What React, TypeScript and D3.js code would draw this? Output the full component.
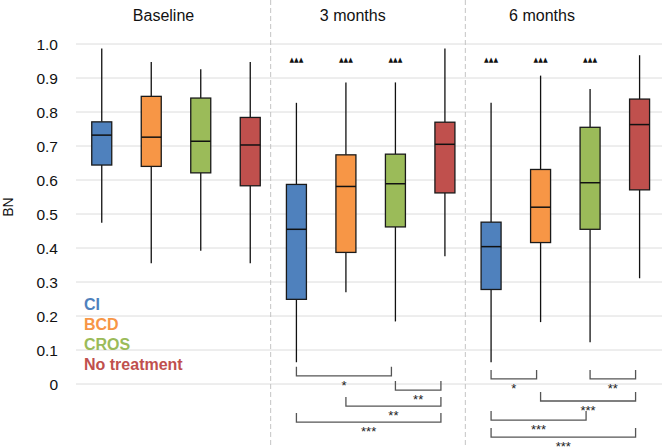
import React from "react";
import * as d3 from "d3";

const groups = ["Baseline", "3 months", "6 months"];
const treatments = ["CI", "BCD", "CROS", "No treatment"];
const colors = ["#4F81BD", "#F79646", "#9BBB59", "#C0504D"];

// [min, q1, median, q3, max] per treatment
const baselineStats = [
  [0.474, 0.644, 0.732, 0.771, 0.987],
  [0.355, 0.64, 0.726, 0.846, 0.947],
  [0.392, 0.621, 0.714, 0.841, 0.926],
  [0.355, 0.583, 0.703, 0.784, 0.947],
];
const threeMonthStats = [
  [0.064, 0.249, 0.455, 0.587, 0.827],
  [0.27, 0.387, 0.581, 0.674, 0.887],
  [0.184, 0.462, 0.589, 0.676, 0.887],
  [0.376, 0.562, 0.705, 0.77, 0.987],
];
const sixMonthStats = [
  [0.064, 0.278, 0.404, 0.476, 0.827],
  [0.182, 0.416, 0.52, 0.631, 0.907],
  [0.123, 0.455, 0.592, 0.755, 0.868],
  [0.311, 0.571, 0.763, 0.838, 0.967],
];
const groupStats = [baselineStats, threeMonthStats, sixMonthStats];

const yTicks = [0, 0.1, 0.2, 0.3, 0.4, 0.5, 0.6, 0.7, 0.8, 0.9, 1.0];
const yTickLabels = ["0", "0.1", "0.2", "0.3", "0.4", "0.5", "0.6", "0.7", "0.8", "0.9", "1.0"];

// significance vs baseline (triangles)
const triangleMarks = [
  { group: 1, treatments: [0, 1, 2] },
  { group: 2, treatments: [0, 1, 2] },
];
const triangleLevel = 0.953;

// pairwise brackets: level is the BN value of the bracket line
const threeMonthBrackets = [
  { from: 0, to: 2, level: 0.024, label: "*" },
  { from: 2, to: 3, level: -0.018, label: "**" },
  { from: 1, to: 3, level: -0.065, label: "**" },
  { from: 0, to: 3, level: -0.112, label: "***" },
];
const sixMonthBrackets = [
  { from: 0, to: 1, level: 0.015, label: "*" },
  { from: 2, to: 3, level: 0.015, label: "**" },
  { from: 1, to: 3, level: -0.05, label: "***" },
  { from: 0, to: 2, level: -0.106, label: "***" },
  { from: 0, to: 3, level: -0.156, label: "***" },
];
const groupBrackets = [[], threeMonthBrackets, sixMonthBrackets];

const W = 665;
const H = 447;
const FONT = "'Liberation Sans', Arial, sans-serif";

export default function App() {
  const y = d3.scaleLinear().domain([0, 1]).range([384, 44]);
  const x0 = d3.scaleBand<string>().domain(groups).range([76, 660]);
  const x1 = d3.scaleBand<string>().domain(treatments).range([1, 199]);
  const cx = (g: number, t: number) =>
    (x0(groups[g]) as number) + (x1(treatments[t]) as number) + x1.bandwidth() / 2;
  const titleX = d3.scalePoint<string>().domain(groups).range([163.5, 542]);
  const boxW = 20;
  const bracketInset = 4;
  const tickH = 9;

  return (
    <svg
      width={W}
      height={H}
      style={{ position: "absolute", left: 0, top: 0, background: "#fff" }}
      fontFamily={FONT}
    >
      {/* gridlines */}
      {yTicks.map((v, i) => (
        <line key={"g" + i} x1={76} x2={662} y1={y(v)} y2={y(v)} stroke="#dcdcdc" strokeWidth={1} />
      ))}
      {/* y tick labels */}
      {yTicks.map((v, i) => (
        <text key={"t" + i} x={58} y={y(v) + 5.5} textAnchor="end" fontSize={15.5} fill="#111">
          {yTickLabels[i]}
        </text>
      ))}
      {/* y label */}
      <text transform="translate(13,207) rotate(-90)" textAnchor="middle" fontSize={14} fill="#111">
        BN
      </text>
      {/* dividers */}
      {groups.slice(1).map((g) => (
        <line
          key={"d" + g}
          x1={x0(g) as number}
          x2={x0(g) as number}
          y1={0}
          y2={H}
          stroke="#c4c4c4"
          strokeWidth={1}
          strokeDasharray="5,3"
        />
      ))}
      {/* group titles */}
      {groups.map((g) => (
        <text key={"ti" + g} x={titleX(g)} y={21} textAnchor="middle" fontSize={16} fill="#111">
          {g}
        </text>
      ))}
      {/* boxes */}
      {groupStats.map((stats, g) =>
        stats.map((s, t) => {
          const c = cx(g, t);
          const [mn, q1, md, q3, mx] = s;
          return (
            <g key={"b" + g + "-" + t}>
              <line x1={c} x2={c} y1={y(mx)} y2={y(q3)} stroke="#111" strokeWidth={1.3} />
              <line x1={c} x2={c} y1={y(q1)} y2={y(mn)} stroke="#111" strokeWidth={1.3} />
              <rect
                x={c - boxW / 2}
                y={y(q3)}
                width={boxW}
                height={y(q1) - y(q3)}
                fill={colors[t]}
                stroke="#1a1a1a"
                strokeWidth={1.3}
              />
              <line x1={c - boxW / 2} x2={c + boxW / 2} y1={y(md)} y2={y(md)} stroke="#111" strokeWidth={1.5} />
            </g>
          );
        })
      )}
      {/* triangles */}
      {triangleMarks.map((m) =>
        m.treatments.map((t) => (
          <text
            key={"tr" + m.group + t}
            x={cx(m.group, t) - 7}
            y={y(triangleLevel) + 2.5}
            fontSize={7}
            fontFamily="'DejaVu Sans', sans-serif"
            textLength={14}
            lengthAdjust="spacingAndGlyphs"
            fill="#111"
          >
            ▲▲▲
          </text>
        ))
      )}
      {/* brackets */}
      {groupBrackets.map((list, g) =>
        list.map((b, i) => {
          const xa = cx(g, b.from);
          const xb = cx(g, b.to) - bracketInset;
          const yy = y(b.level);
          return (
            <g key={"br" + g + "-" + i}>
              <path
                d={`M${xa},${yy - tickH}V${yy}H${xb}V${yy - tickH}`}
                fill="none"
                stroke="#555"
                strokeWidth={1.3}
              />
              <text x={(xa + xb) / 2} y={yy + 14} textAnchor="middle" fontSize={13} fill="#222">
                {b.label}
              </text>
            </g>
          );
        })
      )}
      {/* legend */}
      {treatments.map((t, i) => (
        <text key={"l" + t} x={84} y={309.5 + i * 20} fontSize={16} fontWeight="bold" fill={colors[i]}>
          {t}
        </text>
      ))}
    </svg>
  );
}
